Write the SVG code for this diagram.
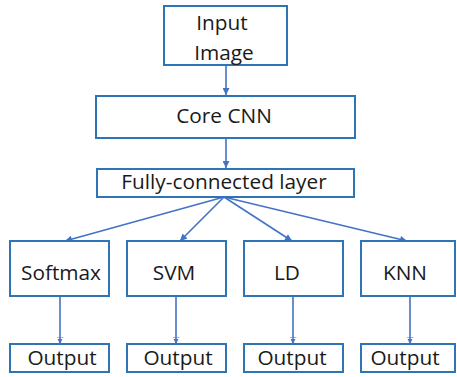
<svg xmlns="http://www.w3.org/2000/svg" width="457" height="377" viewBox="0 0 457 377">
  <defs>
    <style>
      .box { fill: #ffffff; stroke: #2E75B6; stroke-width: 2; }
      .lbl { font-family: "Open Sans", "Liberation Sans", sans-serif; font-size: 20.8px; fill: #1a1a1a; text-anchor: middle; }
      .edge { stroke: #4472C4; stroke-width: 1.6; fill: none; }
    </style>
    <marker id="arrow" viewBox="0 0 10 10" refX="10" refY="5" markerWidth="8" markerHeight="7" orient="auto" markerUnits="userSpaceOnUse">
      <path d="M0,0 L10,5 L0,10 z" fill="#4472C4"/>
    </marker>
    <marker id="tee" viewBox="0 0 10 10" refX="10" refY="5" markerWidth="7" markerHeight="7" orient="auto" markerUnits="userSpaceOnUse">
      <path d="M0,0 L0,10" stroke="#4472C4" stroke-width="1.5"/>
      <path d="M3,1.5 L10,5 L3,8.5 z" fill="#4472C4"/>
    </marker>
  </defs>
  <rect width="457" height="377" fill="#ffffff"/>

  <!-- connectors: main flow, fan-out to classifiers, classifier outputs -->
  <g id="connectors">
    <line class="edge" x1="226" y1="65" x2="226" y2="95" style="marker-end:url(#arrow)"/>
    <line class="edge" x1="226" y1="138" x2="226" y2="168" style="marker-end:url(#arrow)"/>
    <line class="edge" x1="224" y1="197" x2="65" y2="241" style="marker-end:url(#arrow)"/>
    <line class="edge" x1="224" y1="197" x2="180" y2="241" style="marker-end:url(#arrow)"/>
    <line class="edge" x1="224" y1="197" x2="292" y2="241" style="marker-end:url(#arrow)"/>
    <line class="edge" x1="224" y1="197" x2="407" y2="241" style="marker-end:url(#arrow)"/>
    <line class="edge" x1="60" y1="296" x2="60" y2="344" style="marker-end:url(#tee)"/>
    <line class="edge" x1="176" y1="296" x2="176" y2="344" style="marker-end:url(#tee)"/>
    <line class="edge" x1="293" y1="296" x2="293" y2="344" style="marker-end:url(#tee)"/>
    <line class="edge" x1="410" y1="296" x2="410" y2="344" style="marker-end:url(#tee)"/>
  </g>

  <g id="input-image">
    <rect class="box" x="164" y="6" width="123" height="59"/>
    <text class="lbl" x="222" y="30">Input</text>
    <text class="lbl" x="224" y="60">Image</text>
  </g>
  <g id="core-cnn">
    <rect class="box" x="96" y="96" width="259" height="42"/>
    <text class="lbl" x="224" y="123">Core CNN</text>
  </g>
  <g id="fully-connected">
    <rect class="box" x="97" y="169" width="257" height="28"/>
    <text class="lbl" x="224" y="189">Fully-connected layer</text>
  </g>

  <g id="softmax">
    <rect class="box" x="10" y="241" width="99" height="55"/>
    <text class="lbl" x="61" y="280">Softmax</text>
  </g>
  <g id="svm">
    <rect class="box" x="127" y="241" width="99" height="55"/>
    <text class="lbl" x="174" y="280">SVM</text>
  </g>
  <g id="ld">
    <rect class="box" x="244" y="241" width="99" height="55"/>
    <text class="lbl" x="287" y="280">LD</text>
  </g>
  <g id="knn">
    <rect class="box" x="361" y="241" width="94" height="55"/>
    <text class="lbl" x="405" y="280">KNN</text>
  </g>

  <g id="output-1">
    <rect class="box" x="10" y="344" width="99" height="28"/>
    <text class="lbl" x="62" y="365">Output</text>
  </g>
  <g id="output-2">
    <rect class="box" x="127" y="344" width="99" height="28"/>
    <text class="lbl" x="178" y="365">Output</text>
  </g>
  <g id="output-3">
    <rect class="box" x="244" y="344" width="99" height="28"/>
    <text class="lbl" x="292" y="365">Output</text>
  </g>
  <g id="output-4">
    <rect class="box" x="361" y="344" width="94" height="28"/>
    <text class="lbl" x="405" y="365">Output</text>
  </g>
</svg>
